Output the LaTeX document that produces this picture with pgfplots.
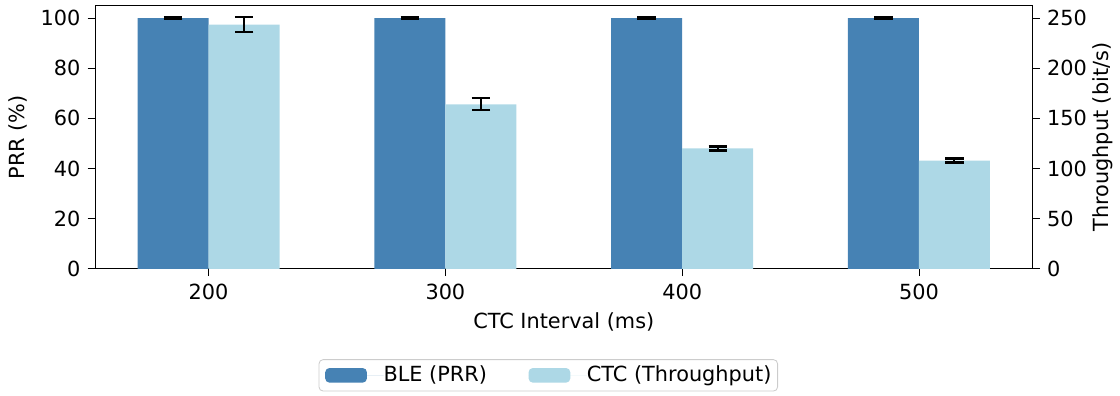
\documentclass[border=0pt]{standalone}
\usepackage{fontspec}
\setmainfont{DejaVu Sans}
\usepackage{pgfplots}
\pgfplotsset{compat=1.18}
\definecolor{steel}{HTML}{4682B4}
\definecolor{lblue}{HTML}{ADD8E6}
\begin{document}
\begin{tikzpicture}
\path (-45.6pt,-60.96pt) rectangle (492pt,129.12pt);
\pgfplotsset{common/.style={
  width=450.2pt, height=126.5pt, scale only axis,
  xmin=152, xmax=548,
  /pgf/number format/assume math mode=true,
  tick align=outside, major tick length=3.5pt,
  tick style={black, line width=0.4pt},
  axis line style={black, line width=0.4pt},
  ymin=0,
}}
\begin{axis}[common,
  ymax=105,
  ytick={0,20,40,60,80,100},
  xtick={200,300,400,500},
  xtick pos=bottom, ytick pos=left,
  xlabel={CTC Interval (ms)},
  ylabel={PRR (\%)},
  xlabel style={at={(axis description cs:0.5,-0.201)}, anchor=center},
  ylabel style={at={(axis description cs:-0.0826,0.5)}, anchor=center},
  legend style={at={(0.4835,-0.404)}, anchor=center, legend columns=2,
    draw=black!20, rounded corners=2pt, inner xsep=3pt, inner ysep=3pt,
    nodes={inner sep=0pt},
    /tikz/every even column/.append style={column sep=20pt}},
  legend cell align=left,
]
\addplot[ybar, bar width=30, bar shift=0pt, fill=steel, draw=none,
  legend image code/.code={\fill[steel, draw=none] (0pt,-3.5pt) rectangle (20pt,3.5pt); \path[draw=none] (0pt,0pt) -- (28pt,0pt);},
  error bars/.cd, y dir=both, y explicit,
  error bar style={black, line width=1pt},
  error mark options={black, line width=1pt, mark size=4.4pt, rotate=90}]
coordinates {
  (185,100) +- (0,0.3)
  (285,100) +- (0,0.3)
  (385,100) +- (0,0.3)
  (485,100) +- (0,0.3)
};
\addlegendentry{BLE (PRR)}
\addlegendimage{draw=none, fill=lblue, legend image code/.code={\fill[lblue, draw=none] (0pt,-3.5pt) rectangle (20pt,3.5pt); \path[draw=none] (0pt,0pt) -- (28pt,0pt);}}
\addlegendentry{CTC (Throughput)}
\end{axis}
\begin{axis}[common,
  ymax=262.5,
  axis x line=none, axis y line*=right,
  ytick={0,50,100,150,200,250},
  ylabel={Throughput (bit/s)},
  ylabel style={at={(axis description cs:1.0751,0.5)}, anchor=center},
]
\addplot[ybar, bar width=30, bar shift=0pt, fill=lblue, draw=none,
  error bars/.cd, y dir=both, y explicit,
  error bar style={black, line width=1pt},
  error mark options={black, line width=1pt, mark size=4.4pt, rotate=90}]
coordinates {
  (215,243.5) +- (0,7.8)
  (315,164) +- (0,6)
  (415,120) +- (0,2)
  (515,108) +- (0,2)
};
\end{axis}
\end{tikzpicture}
\end{document}
